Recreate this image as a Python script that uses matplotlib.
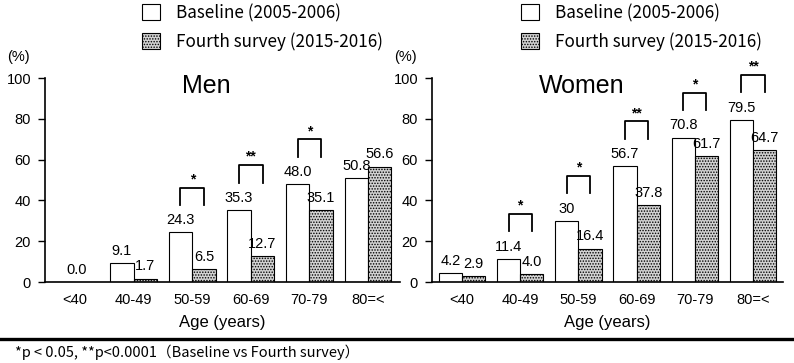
import matplotlib
matplotlib.use("Agg")
import matplotlib.pyplot as plt
import numpy as np
from matplotlib.patches import Patch
from matplotlib.lines import Line2D

plt.rcParams['font.family'] = ['Liberation Sans', 'DejaVu Sans']
plt.rcParams['hatch.linewidth'] = 0.7

ages = ['<40', '40-49', '50-59', '60-69', '70-79', '80=<']

men_base = [0.0, 9.1, 24.3, 35.3, 48.0, 50.8]
men_fourth = [np.nan, 1.7, 6.5, 12.7, 35.1, 56.6]
men_base_lbl = ['0.0', '9.1', '24.3', '35.3', '48.0', '50.8']
men_fourth_lbl = ['', '1.7', '6.5', '12.7', '35.1', '56.6']
men_sig = ['', '', '*', '**', '*', '']

women_base = [4.2, 11.4, 30.0, 56.7, 70.8, 79.5]
women_fourth = [2.9, 4.0, 16.4, 37.8, 61.7, 64.7]
women_base_lbl = ['4.2', '11.4', '30', '56.7', '70.8', '79.5']
women_fourth_lbl = ['2.9', '4.0', '16.4', '37.8', '61.7', '64.7']
women_sig = ['', '*', '*', '**', '*', '**']

W, H = 794, 363
fig = plt.figure(figsize=(W / 100, H / 100), dpi=100)

cjk = ['Noto Sans CJK JP', 'DejaVu Sans']
gray = '#d2d2d2'


def px_ax(x0, x1):
    # axes rect from pixel coords (y fixed: 0 at 282, 100 at 78)
    return [x0 / W, (H - 282) / H, (x1 - x0) / W, 204 / H]


def panel(rect, xlim, base, fourth, base_lbl, fourth_lbl, sig, title, tx):
    ax = fig.add_axes(rect)
    x = np.arange(len(ages))
    w = 0.4
    ax.bar(x - w / 2, base, w, color='white', edgecolor='black', lw=0.8)
    ax.bar(x + w / 2, fourth, w, color=gray, edgecolor='black',
           lw=0.8, hatch='......')
    for i in range(len(ages)):
        if fourth_lbl[i] == '':
            ax.text(x[i] + 0.03, base[i] + 2.5, base_lbl[i], ha='center',
                    va='bottom', fontsize=10.5)
        else:
            ax.text(x[i] - w / 2, base[i] + 2.5, base_lbl[i], ha='center',
                    va='bottom', fontsize=10.5)
            ax.text(x[i] + w / 2, fourth[i] + 2.5, fourth_lbl[i],
                    ha='center', va='bottom', fontsize=10.5)
        if sig[i]:
            top = np.nanmax([base[i], fourth[i]]) + 22
            ax.plot([x[i] - w / 2, x[i] - w / 2, x[i] + w / 2, x[i] + w / 2],
                    [top - 8.6, top, top, top - 8.6], color='black', lw=1.3,
                    clip_on=False)
            ax.text(x[i], top + 0.6, sig[i], ha='center', va='bottom',
                    fontsize=10, fontweight='bold')
    ax.set_xlim(*xlim)
    ax.set_ylim(0, 100)
    ax.set_yticks([0, 20, 40, 60, 80, 100])
    ax.set_xticks(x)
    ax.set_xticklabels(ages)
    ax.tick_params(axis='x', length=0, pad=8, labelsize=10.5)
    ax.tick_params(axis='y', length=5, width=1, pad=5, labelsize=10.5)
    for s in ['top', 'right']:
        ax.spines[s].set_visible(False)
    for s in ['left', 'bottom']:
        ax.spines[s].set_linewidth(1.2)
    ax.set_xlabel('Age (years)', fontsize=12, labelpad=6)
    ax.text(tx, 0.96, title, transform=ax.transAxes, ha='center',
            va='center', fontsize=18)
    ax.text(-38 / (rect[2] * W), 1.105, '(%)', transform=ax.transAxes,
            ha='left', va='center', fontsize=10.5)
    return ax


ax1 = panel(px_ax(45, 400), (-0.512, 5.546), men_base, men_fourth,
            men_base_lbl, men_fourth_lbl, men_sig, 'Men', 0.453)
ax2 = panel(px_ax(432, 783), (-0.515, 5.515), women_base, women_fourth,
            women_base_lbl, women_fourth_lbl, women_sig, 'Women', 0.427)

handles = [Patch(facecolor='white', edgecolor='black', lw=0.8),
           Patch(facecolor=gray, edgecolor='black', lw=0.8,
                 hatch='......')]
labels = ['Baseline (2005-2006)', 'Fourth survey (2015-2016)']
for bx in (141, 520):
    fig.legend(handles, labels, loc='upper left',
               bbox_to_anchor=(bx / W, 1 - 3 / H), frameon=False,
               prop={'family': cjk, 'size': 12.3}, handlelength=1.05,
               handleheight=1.05, handletextpad=0.95, labelspacing=0.6,
               borderaxespad=0, borderpad=0.05)

fig.add_artist(Line2D([0, 1], [(H - 339) / H] * 2, color='black', lw=2.4,
                      transform=fig.transFigure))
fig.text(15 / W, (H - 352) / H,
         '*p < 0.05, **p<0.0001（Baseline vs Fourth survey）',
         ha='left', va='center', fontsize=10.5, family=cjk)

fig.savefig('out.png', dpi=100)
